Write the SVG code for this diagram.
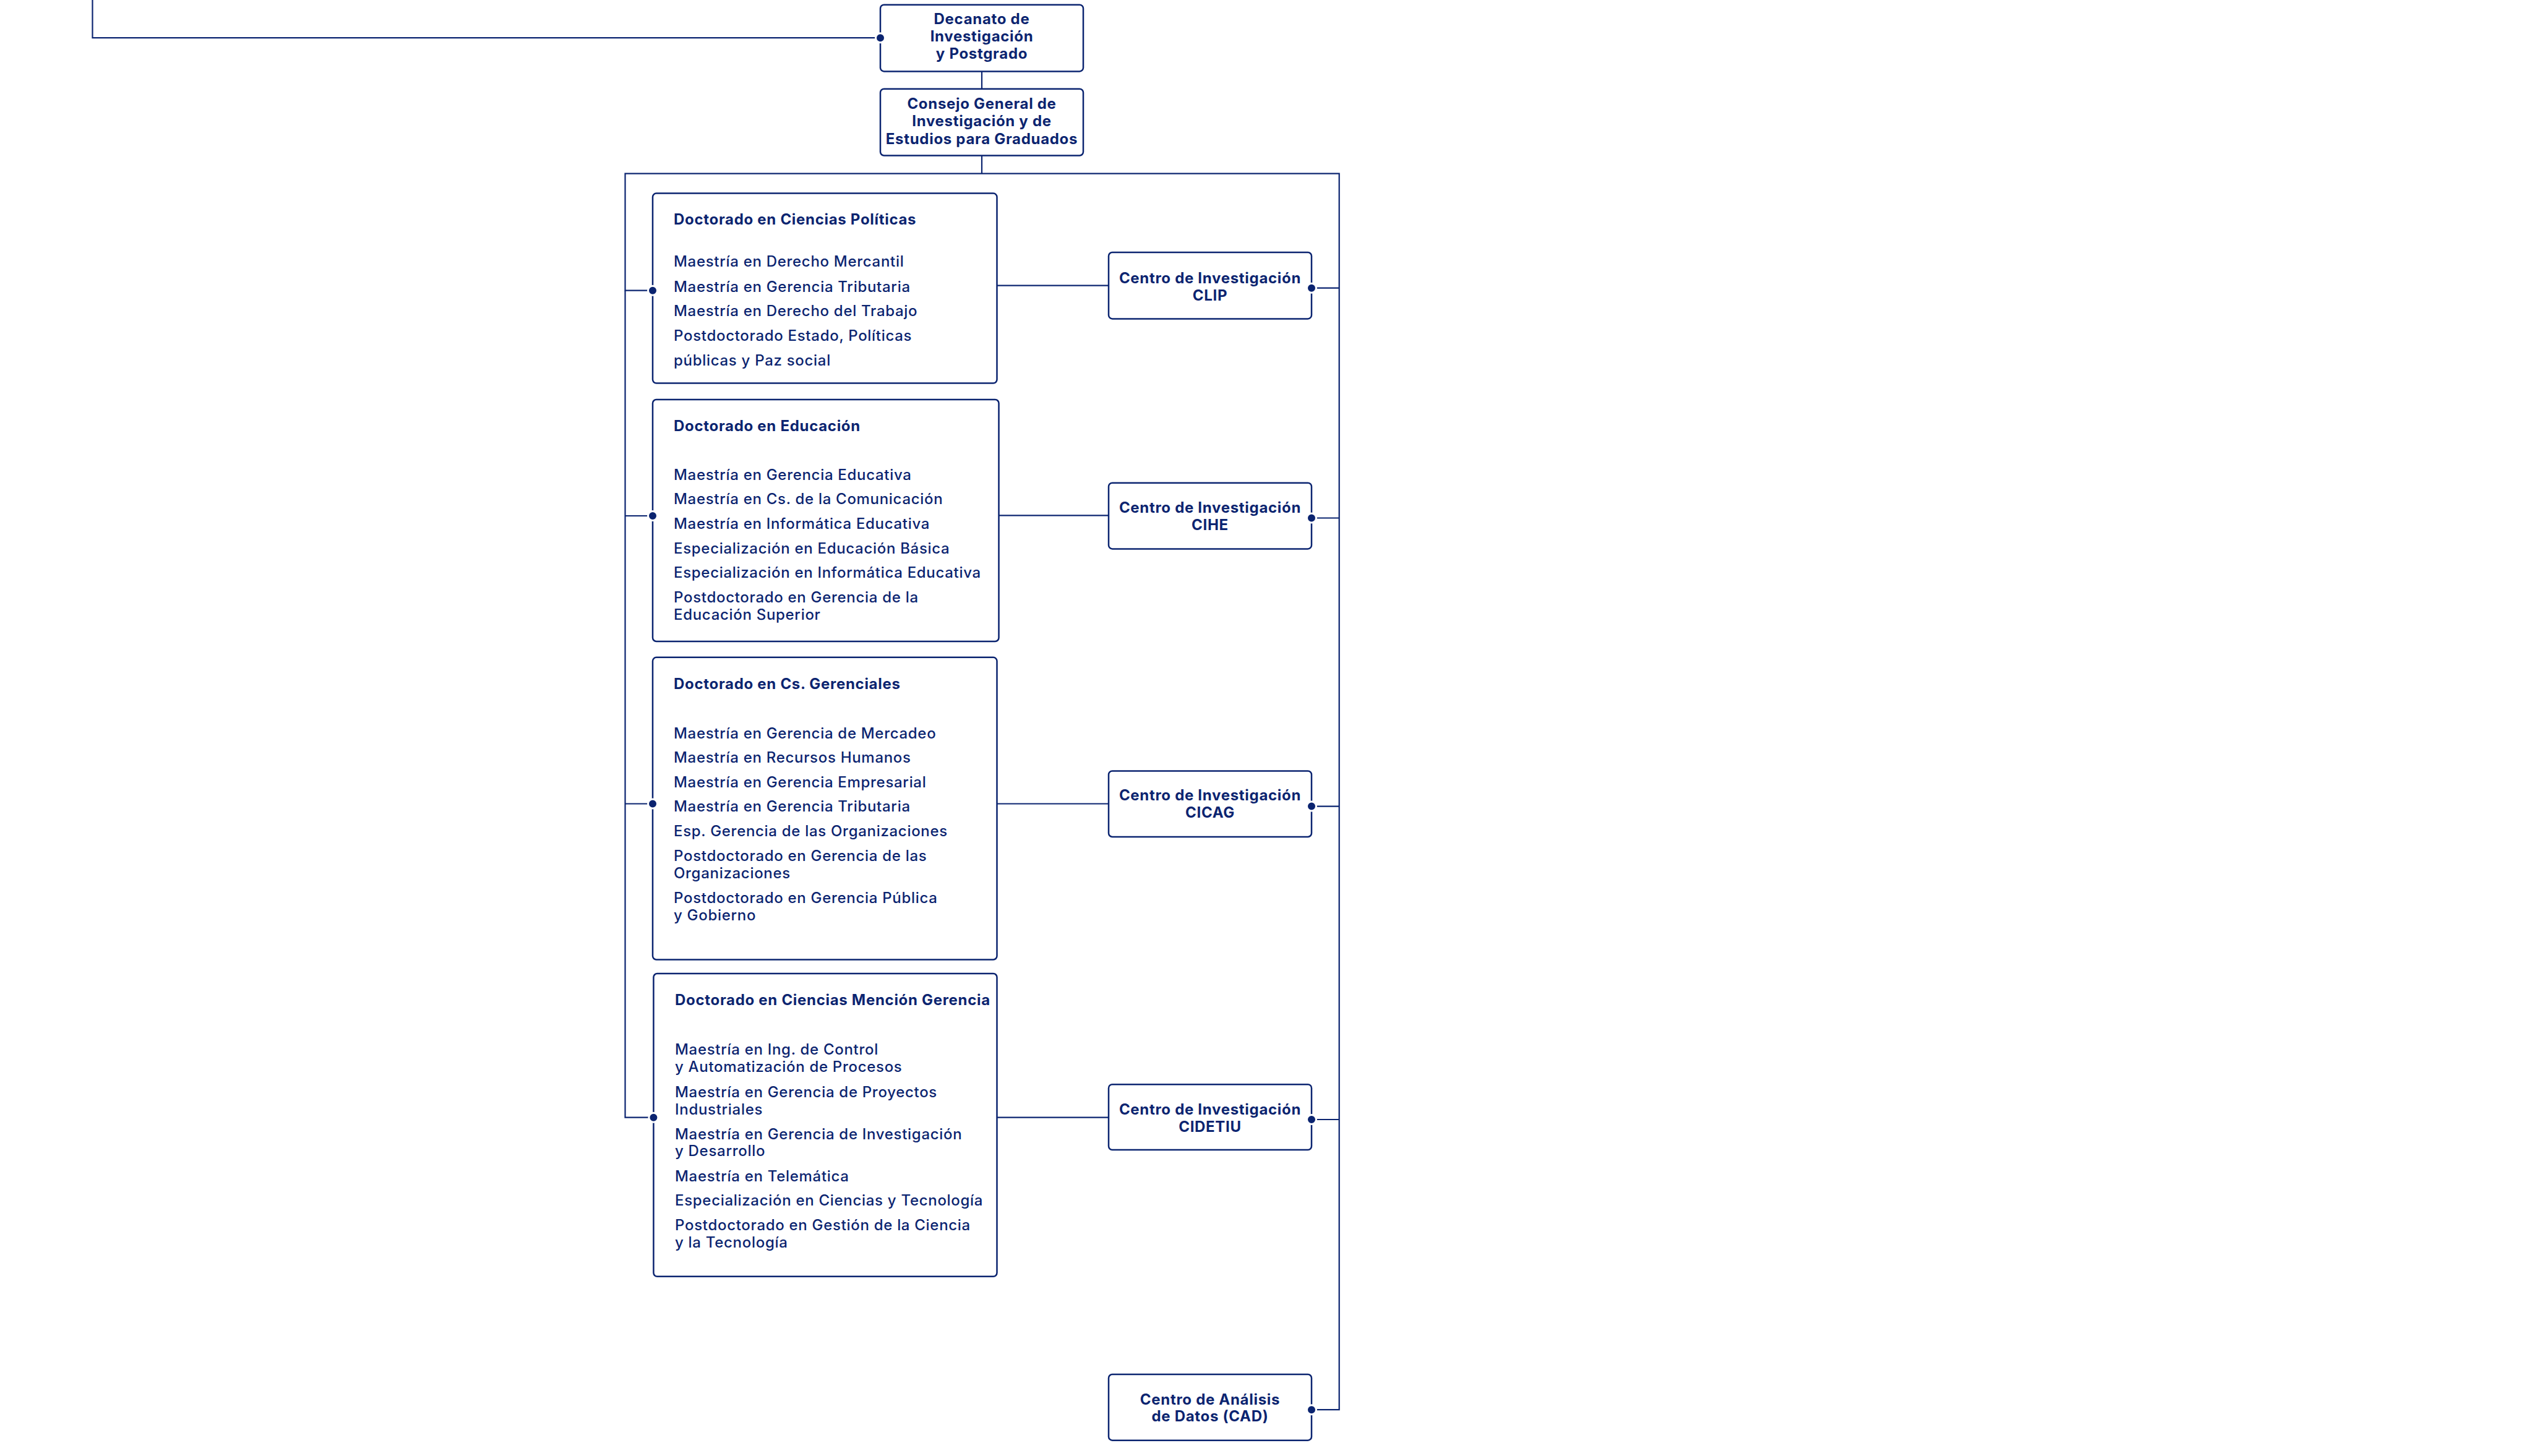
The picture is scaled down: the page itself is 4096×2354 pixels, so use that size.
<svg xmlns="http://www.w3.org/2000/svg" width="4096" height="2354" viewBox="0 0 4096 2354">
<style>
.box{fill:#fff;stroke:#0b2470;stroke-width:2.5}
.ln{fill:none;stroke:#0b2470;stroke-width:2.2}
.dot{fill:#0b2470;stroke:#fff;stroke-width:3}
text{font-family:Inter,"Open Sans","Liberation Sans",sans-serif;fill:#0b2470;font-size:24px;letter-spacing:0.7px;font-weight:500}
.b{font-weight:700}
.c{text-anchor:middle}
</style>
<rect width="4096" height="2354" fill="#fff"/>
<g id="connectors">
<path class="ln" d="M149.5 0V61.2H1423"/>
<path class="ln" d="M1587 115.4V143.7"/>
<path class="ln" d="M1587 251.5V280.7"/>
<path class="ln" d="M1055 469.7H1010.5V280.7H2164.7V2279.2H2120"/>
<path class="ln" d="M1010.5 469.7V1806.7H1056.4"/>
<path class="ln" d="M1010.5 834H1055M1010.5 1299.5H1055"/>
<path class="ln" d="M2120 465.7H2164.7M2120 837.5H2164.7M2120 1303.6H2164.7M2120 1810H2164.7"/>
<path class="ln" d="M1611.5 461.7H1792M1614.5 833.4H1792M1611.5 1299.5H1792M1611.5 1806.7H1792"/>
</g>
<g id="decanato">
<rect class="box" x="1423" y="7.7" width="328" height="107.7" rx="6"/>
<text class="b c" x="1587" y="38.7">Decanato de</text>
<text class="b c" x="1587" y="66.8">Investigación</text>
<text class="b c" x="1587" y="95">y Postgrado</text>
</g>
<g id="consejo">
<rect class="box" x="1423" y="143.7" width="328" height="107.8" rx="6"/>
<text class="b c" x="1587" y="175.7">Consejo General de</text>
<text class="b c" x="1587" y="204.4">Investigación y de</text>
<text class="b c" x="1587" y="233.2">Estudios para Graduados</text>
</g>
<g id="doc-politicas">
<rect class="box" x="1055" y="312.6" width="556.5" height="307" rx="6"/>
<text class="b" x="1089" y="362.7">Doctorado en Ciencias Políticas</text>
<text x="1089" y="431.3">Maestría en Derecho Mercantil</text>
<text x="1089" y="471.6">Maestría en Gerencia Tributaria</text>
<text x="1089" y="511.4">Maestría en Derecho del Trabajo</text>
<text x="1089" y="551">Postdoctorado Estado, Políticas</text>
<text x="1089" y="590.5">públicas y Paz social</text>
</g>
<g id="doc-educacion">
<rect class="box" x="1055" y="646" width="559.5" height="391" rx="6"/>
<text class="b" x="1089" y="696.5">Doctorado en Educación</text>
<text x="1089" y="775.8">Maestría en Gerencia Educativa</text>
<text x="1089" y="815">Maestría en Cs. de la Comunicación</text>
<text x="1089" y="855">Maestría en Informática Educativa</text>
<text x="1089" y="894.8">Especialización en Educación Básica</text>
<text x="1089" y="934">Especialización en Informática Educativa</text>
<text x="1089" y="974">Postdoctorado en Gerencia de la</text>
<text x="1089" y="1002.2">Educación Superior</text>
</g>
<g id="doc-gerenciales">
<rect class="box" x="1055" y="1062.8" width="556.5" height="488.7" rx="6"/>
<text class="b" x="1089" y="1114.2">Doctorado en Cs. Gerenciales</text>
<text x="1089" y="1193.7">Maestría en Gerencia de Mercadeo</text>
<text x="1089" y="1232.9">Maestría en Recursos Humanos</text>
<text x="1089" y="1272.5">Maestría en Gerencia Empresarial</text>
<text x="1089" y="1312.4">Maestría en Gerencia Tributaria</text>
<text x="1089" y="1352">Esp. Gerencia de las Organizaciones</text>
<text x="1089" y="1391.9">Postdoctorado en Gerencia de las</text>
<text x="1089" y="1420.3">Organizaciones</text>
<text x="1089" y="1460.2">Postdoctorado en Gerencia Pública</text>
<text x="1089" y="1488.3">y Gobierno</text>
</g>
<g id="doc-mencion">
<rect class="box" x="1056.4" y="1574" width="555.1" height="489.8" rx="6"/>
<text class="b" x="1091" y="1625">Doctorado en Ciencias Mención Gerencia</text>
<text x="1091" y="1705.3">Maestría en Ing. de Control</text>
<text x="1091" y="1733.3">y Automatización de Procesos</text>
<text x="1091" y="1773.5">Maestría en Gerencia de Proyectos</text>
<text x="1091" y="1801.6">Industriales</text>
<text x="1091" y="1841.5">Maestría en Gerencia de Investigación</text>
<text x="1091" y="1869.3">y Desarrollo</text>
<text x="1091" y="1909.8">Maestría en Telemática</text>
<text x="1091" y="1949.4">Especialización en Ciencias y Tecnología</text>
<text x="1091" y="1989.3">Postdoctorado en Gestión de la Ciencia</text>
<text x="1091" y="2017">y la Tecnología</text>
</g>
<g id="clip">
<rect class="box" x="1792" y="408" width="328" height="107.4" rx="6"/>
<text class="b c" x="1956" y="457.5">Centro de Investigación</text>
<text class="b c" x="1956" y="485.8">CLIP</text>
</g>
<g id="cihe">
<rect class="box" x="1792" y="780.7" width="328" height="106.7" rx="6"/>
<text class="b c" x="1956" y="828.6">Centro de Investigación</text>
<text class="b c" x="1956" y="857">CIHE</text>
</g>
<g id="cicag">
<rect class="box" x="1792" y="1246.4" width="328" height="106.6" rx="6"/>
<text class="b c" x="1956" y="1294.4">Centro de Investigación</text>
<text class="b c" x="1956" y="1322.2">CICAG</text>
</g>
<g id="cidetiu">
<rect class="box" x="1792" y="1753.2" width="328" height="105.9" rx="6"/>
<text class="b c" x="1956" y="1801.6">Centro de Investigación</text>
<text class="b c" x="1956" y="1829.7">CIDETIU</text>
</g>
<g id="cad">
<rect class="box" x="1792" y="2222" width="328" height="106.7" rx="6"/>
<text class="b c" x="1956" y="2270.8">Centro de Análisis</text>
<text class="b c" x="1956" y="2298.4">de Datos (CAD)</text>
</g>
<g id="dots">
<circle class="dot" cx="1423" cy="61.2" r="7.5"/>
<circle class="dot" cx="1055" cy="469.7" r="7.5"/>
<circle class="dot" cx="1055" cy="834" r="7.5"/>
<circle class="dot" cx="1055" cy="1299.5" r="7.5"/>
<circle class="dot" cx="1056.4" cy="1806.7" r="7.5"/>
<circle class="dot" cx="2120" cy="465.7" r="7.5"/>
<circle class="dot" cx="2120" cy="837.5" r="7.5"/>
<circle class="dot" cx="2120" cy="1303.6" r="7.5"/>
<circle class="dot" cx="2120" cy="1810" r="7.5"/>
<circle class="dot" cx="2120" cy="2279.2" r="7.5"/>
</g>
</svg>
